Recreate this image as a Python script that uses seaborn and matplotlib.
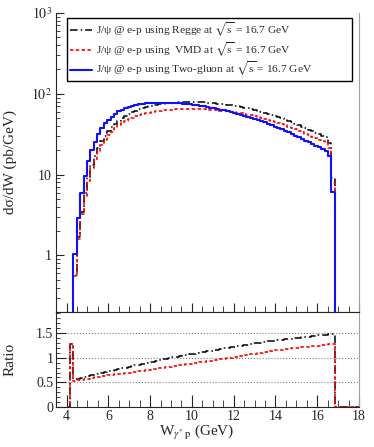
"""dσ/dW of J/ψ photoproduction at √s = 16.7 GeV: three models plus ratio to Two-gluon."""
import matplotlib
matplotlib.use("Agg")
import matplotlib.pyplot as plt
import numpy as np
import pandas as pd
import seaborn as sns
from matplotlib.ticker import FixedLocator, MultipleLocator, LogLocator, NullFormatter

# bins: 86 bins of 0.1625 GeV starting at W = 4.0
BIN_LO = 4.0
BIN_W = 0.1625
N_BINS = 86

# dσ/dW (pb/GeV) per bin
two_gluon = [
    0.0, 0.1, 1.03, 2.9, 5.9, 9.7, 14.6, 20.3, 25.6, 32.0,
    37.6, 43.0, 47.7, 52.3, 56.7, 60.5, 63.5, 66.3, 68.8, 71.0,
    72.8, 74.2, 75.4, 76.3, 77.0, 77.5, 77.8, 78.0, 78.0, 77.9,
    77.6, 77.2, 76.7, 76.1, 75.4, 74.6, 73.8, 72.9, 71.9, 70.9,
    69.8, 68.7, 67.5, 66.3, 65.0, 63.7, 62.4, 61.0, 59.6, 58.2,
    56.7, 55.2, 53.7, 52.1, 50.6, 49.0, 47.4, 45.8, 44.2, 42.6,
    41.0, 39.4, 37.8, 36.3, 34.8, 33.3, 31.8, 30.3, 29.0, 27.7,
    26.4, 25.1, 23.9, 22.8, 21.7, 20.7, 19.8, 16.8, 6.1, 0.0,
    0.0, 0.0, 0.0, 0.0, 0.0, 0.0,
]
regge = [
    0.0, 0.127, 0.578, 1.67, 3.50, 5.91, 9.14, 13.0, 16.8, 21.6,
    26.0, 30.4, 34.5, 38.6, 42.8, 46.5, 49.8, 53.0, 56.1, 59.0,
    61.6, 64.0, 66.2, 68.1, 69.9, 71.5, 73.0, 74.3, 75.4, 76.4,
    77.3, 78.0, 78.4, 78.8, 79.1, 79.2, 79.3, 79.2, 78.9, 78.6,
    78.2, 77.8, 77.2, 76.6, 75.8, 75.0, 74.2, 73.2, 72.2, 71.2,
    70.0, 68.8, 67.5, 66.1, 64.8, 63.3, 61.7, 60.0, 58.4, 56.7,
    54.9, 53.2, 51.3, 49.6, 47.8, 46.0, 44.2, 42.4, 40.8, 39.2,
    37.6, 35.9, 34.4, 33.0, 31.6, 30.3, 29.1, 24.9, 9.08, 0.0,
    0.0, 0.0, 0.0, 0.0, 0.0, 0.0,
]
vmd = [
    0.0, 0.127, 0.553, 1.59, 3.29, 5.51, 8.45, 12.0, 15.4, 19.5,
    23.3, 27.2, 30.6, 34.0, 37.5, 40.6, 43.2, 45.7, 48.2, 50.4,
    52.4, 54.1, 55.8, 57.1, 58.4, 59.5, 60.6, 61.5, 62.2, 62.9,
    63.5, 63.8, 64.2, 64.4, 64.6, 64.6, 64.6, 64.6, 64.5, 64.3,
    64.1, 63.8, 63.4, 63.0, 62.4, 61.8, 61.2, 60.5, 59.7, 59.0,
    58.1, 57.2, 56.2, 55.1, 54.1, 53.0, 51.8, 50.6, 49.3, 48.0,
    46.7, 45.3, 43.8, 42.3, 40.9, 39.4, 37.9, 36.3, 35.0, 33.6,
    32.2, 30.8, 29.5, 28.3, 27.1, 26.0, 25.0, 21.4, 7.80, 0.0,
    0.0, 0.0, 0.0, 0.0, 0.0, 0.0,
]

LABELS = [
    r"J/ψ @ e-p using Regge at $\sqrt{\mathrm{s}}$ = 16.7 GeV",
    r"J/ψ @ e-p using  VMD at $\sqrt{\mathrm{s}}$ = 16.7 GeV",
    r"J/ψ @ e-p using Two-gluon at $\sqrt{\mathrm{s}}$ = 16.7 GeV",
]

sns.set_style("ticks")
plt.rcParams["font.family"] = ["Liberation Serif", "DejaVu Serif"]
plt.rcParams["mathtext.fontset"] = "stix"
plt.rcParams["xtick.direction"] = "in"
plt.rcParams["ytick.direction"] = "in"

edges = BIN_LO + BIN_W * np.arange(N_BINS + 1)
centers = 0.5 * (edges[:-1] + edges[1:])
blue = np.array(two_gluon)
black = np.array(regge)
red = np.array(vmd)

# ratio to the Two-gluon model, zero where it has no entries
safe = np.where(blue > 0, blue, 1.0)
ratio_regge = np.where(blue > 0, black / safe, 0.0)
ratio_vmd = np.where(blue > 0, red / safe, 0.0)

# empty bins would vanish on a log axis; push them far below the frame
FLOOR = 1e-3
df = pd.DataFrame({
    "W": centers,
    "regge": np.where(black > 0, black, FLOOR),
    "vmd": np.where(red > 0, red, FLOOR),
    "two_gluon": np.where(blue > 0, blue, FLOOR),
    "r_regge": ratio_regge,
    "r_vmd": ratio_vmd,
})

DASHDOT = (0, (5, 2, 1, 2))
DOTTED = (0, (2, 1.5))
styles = [
    ("regge", "black", DASHDOT, 1.1, LABELS[0]),
    ("vmd", "red", DOTTED, 1.2, LABELS[1]),
    ("two_gluon", "#1010ff", "-", 1.5, LABELS[2]),
]

fig = plt.figure(figsize=(3.74, 4.47), dpi=100)
ax_top = fig.add_axes([0.150, 0.302, 0.810, 0.669])
ax_bot = fig.add_axes([0.150, 0.0895, 0.810, 0.2125])

for col, color, ls, lw, label in styles:
    sns.histplot(
        data=df, x="W", weights=col, bins=list(edges),
        element="step", fill=False, color=color, linestyle=ls,
        linewidth=lw, label=label, ax=ax_top,
    )

ax_top.set_yscale("log")
ax_top.set_xlim(3.5, 18)
ax_top.set_ylim(0.2, 1000)
ax_top.yaxis.set_major_locator(FixedLocator([1, 10, 100, 1000]))
ax_top.set_yticklabels(["1", "10", r"$10^2$", r"$10^3$"])
ax_top.yaxis.set_minor_locator(LogLocator(base=10, subs=np.arange(2, 10), numticks=20))
ax_top.yaxis.set_minor_formatter(NullFormatter())
ax_top.xaxis.set_major_locator(MultipleLocator(2))
ax_top.xaxis.set_minor_locator(MultipleLocator(0.5))
ax_top.tick_params(axis="x", which="both", labelbottom=False)
ax_top.tick_params(axis="x", which="major", length=6.5)
ax_top.tick_params(axis="x", which="minor", length=4.3)
ax_top.tick_params(axis="y", which="major", length=6, labelsize=10, pad=3)
ax_top.tick_params(axis="y", which="minor", length=3)
ax_top.set_xlabel("")
ax_top.set_ylabel("dσ/dW (pb/GeV)", fontsize=11)
ax_top.yaxis.set_label_coords(-0.13, 0.5)
ax_top.spines["top"].set_visible(False)
ax_top.spines["right"].set_color("#a0a0a0")

handles, labels = ax_top.get_legend_handles_labels()
leg = ax_top.legend(
    handles, labels, loc="upper left", bbox_to_anchor=(0.036, 0.786, 0.941, 0.197),
    mode="expand", borderaxespad=0, fontsize=8.2, handlelength=2.0,
    handletextpad=0.35, fancybox=False, framealpha=1, edgecolor="black",
    labelspacing=0.12, borderpad=0.22,
)
leg.get_frame().set_linewidth(1.0)

for col, color, ls, lw in [
    ("r_regge", "black", DASHDOT, 1.1),
    ("r_vmd", "red", DOTTED, 1.2),
]:
    sns.histplot(
        data=df, x="W", weights=col, bins=list(edges), element="step",
        fill=False, color=color, linestyle=ls, linewidth=lw, ax=ax_bot,
    )

ax_bot.set_xlim(3.5, 18)
ax_bot.set_ylim(0, 1.93)
ax_bot.yaxis.set_major_locator(FixedLocator([0, 0.5, 1, 1.5]))
ax_bot.set_yticklabels(["0", "0.5", "1", "1.5"])
ax_bot.yaxis.set_minor_locator(MultipleLocator(0.1))
ax_bot.xaxis.set_major_locator(MultipleLocator(2))
ax_bot.xaxis.set_minor_locator(MultipleLocator(0.5))
ax_bot.tick_params(axis="x", which="major", length=8.5, labelsize=10, pad=2.5)
ax_bot.tick_params(axis="x", which="minor", length=5)
ax_bot.tick_params(axis="y", which="major", length=7, labelsize=10, pad=2)
ax_bot.tick_params(axis="y", which="minor", length=3)
ax_bot.yaxis.grid(True, which="major", linestyle=":", color="#808080", linewidth=0.8)
ax_bot.set_axisbelow(True)
ax_bot.set_ylabel("Ratio", fontsize=11)
ax_bot.yaxis.set_label_coords(-0.13, 0.5)
ax_bot.set_xlabel(r"W$_{\gamma^{*}\,\mathrm{p}}$ (GeV)", fontsize=11)
ax_bot.xaxis.set_label_coords(0.465, -0.165)
ax_bot.spines["right"].set_color("#a0a0a0")

fig.savefig("out.png", dpi=100)
plt.close(fig)
